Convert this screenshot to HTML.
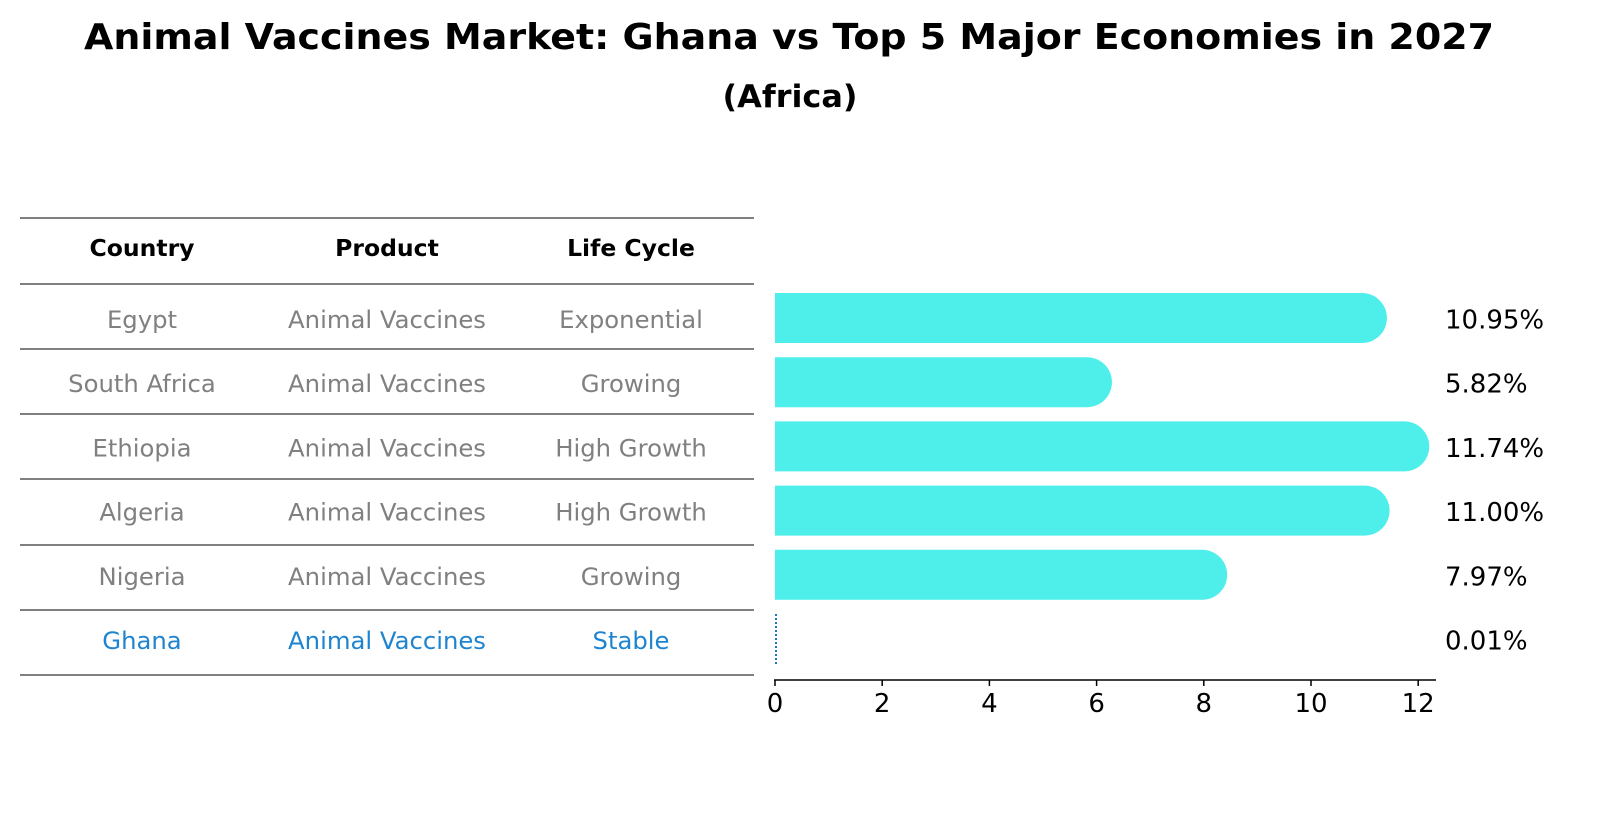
<!DOCTYPE html>
<html><head><meta charset="utf-8"><style>
body{margin:0;background:#fff;width:1604px;height:823px;overflow:hidden;font-family:"DejaVu Sans","Liberation Sans",sans-serif}
svg text{font-family:"DejaVu Sans","Liberation Sans",sans-serif}
</style></head><body>
<svg width="1604" height="823">
<text x="789" y="49" text-anchor="middle" font-size="36" font-weight="bold" textLength="1410" lengthAdjust="spacingAndGlyphs">Animal Vaccines Market: Ghana vs Top 5 Major Economies in 2027</text>
<text x="790" y="107" text-anchor="middle" font-size="31" font-weight="bold" textLength="135" lengthAdjust="spacingAndGlyphs">(Africa)</text>
<g id="table"></g>
<g id="bars"></g>
</svg>
<script>
const countries=["Egypt","South Africa","Ethiopia","Algeria","Nigeria","Ghana"];
const products=["Animal Vaccines","Animal Vaccines","Animal Vaccines","Animal Vaccines","Animal Vaccines","Animal Vaccines"];
const lifeCycles=["Exponential","Growing","High Growth","High Growth","Growing","Stable"];
const values=[10.95,5.82,11.74,11.00,7.97,0.01];
const valueLabels=["10.95%","5.82%","11.74%","11.00%","7.97%","0.01%"];
const xTicks=[0,2,4,6,8,10,12];
const NS="http://www.w3.org/2000/svg";
function mk(tag,attrs,parent,txt){const e=document.createElementNS(NS,tag);for(const k in attrs)e.setAttribute(k,attrs[k]);if(txt!==undefined)e.textContent=txt;parent.appendChild(e);return e;}
const x=v=>775+v*53.6;
const rowY=i=>318+i*64.2;
const tbl=document.getElementById('table');
const lines=[218,284,349,414,479,545,610,675];
lines.forEach(y=>{const l=mk('line',{x1:20,x2:754,y1:y,y2:y,stroke:'#000','stroke-width':1},tbl);

});
const cols=[142,387,631];
["Country","Product","Life Cycle"].forEach((h,j)=>{const t=mk('text',{x:cols[j],y:256,'text-anchor':'middle','font-size':23.5,'font-weight':'bold'},tbl,h);

});
countries.forEach((c,i)=>{const fill=i===countries.length-1?'#1f84d0':'#808080';const y=rowY(i)+3;
[c,products[i],lifeCycles[i]].forEach((s,j)=>{const t=mk('text',{x:cols[j],y:y,'text-anchor':'middle','font-size':24.3,fill:fill,'dominant-baseline':'middle'},tbl,s);

});});
const g=document.getElementById('bars');
values.forEach((v,i)=>{const cy=rowY(i);
if(v<0.5){const l=mk('line',{x1:x(0)+1,x2:x(0)+1,y1:cy-25,y2:cy+25,stroke:'#1f77b4','stroke-width':2,'stroke-dasharray':'2,2'},g);

}
else{const p=mk('path',{d:`M${x(0)},${cy-25} H${x(v)} A25,25 0 0 1 ${x(v)},${cy+25} H${x(0)} Z`,fill:'#4eeeea'},g);

}
const t=mk('text',{x:1445,y:cy+3,'font-size':26,'dominant-baseline':'middle'},g,valueLabels[i]);

});
const ax=mk('line',{x1:774,x2:1436,y1:680,y2:680,stroke:'#000','stroke-width':1.5},g);


xTicks.forEach(v=>{const tk=mk('line',{x1:x(v),x2:x(v),y1:680,y2:686,stroke:'#000','stroke-width':1.5},g);


const t=mk('text',{x:x(v),y:712,'text-anchor':'middle','font-size':26},g,String(v));

});
</script>
</body></html>
